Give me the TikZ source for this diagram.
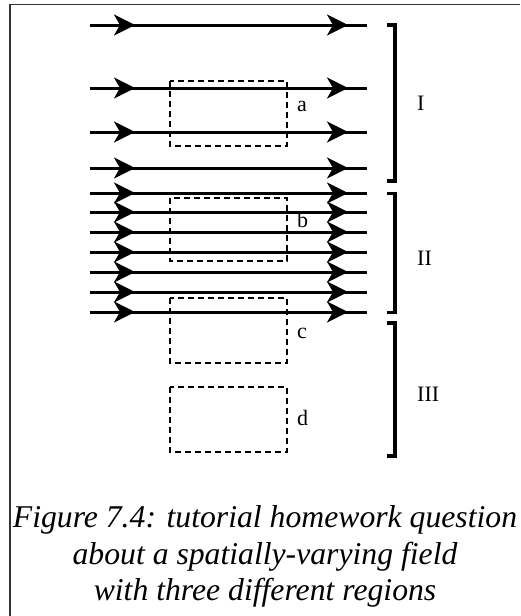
\documentclass[tikz,border=0pt]{standalone}
\usepackage{fontspec}
\setmainfont{Liberation Serif}
\usetikzlibrary{arrows.meta,decorations.markings}
\begin{document}
\begin{tikzpicture}[x=1pt,y=-1pt,
  fieldline/.style={line width=3pt, postaction={decorate},
    decoration={markings,
      mark=at position 45pt with {\arrow{Stealth[length=21pt,width=21pt,inset=6pt]}},
      mark=at position 258pt with {\arrow{Stealth[length=21pt,width=21pt,inset=6pt]}}}},
  loopbox/.style={line width=2.2pt, dash pattern=on 6pt off 4pt},
  brk/.style={line width=3.5pt, line join=miter},
  lbl/.style={anchor=base west, inner sep=0pt, font=\fontsize{22}{24}\selectfont},
  captext/.style={anchor=base, inner sep=0pt, font=\fontsize{31.7}{33}\selectfont\itshape}]
\useasboundingbox (0,0) rectangle (520,616);
% frame
\draw[line width=1.2pt, black!80] (10,616) -- (10,4.5) -- (520,4.5);
% field lines
\foreach \y in {25,88,132,168,193,212,232,252,272,292,312}{
  \draw[fieldline] (90,\y) -- (367,\y);
}
% loops
\draw[loopbox] (170,81) rectangle (287,146);
\draw[loopbox] (170,198) rectangle (287,261);
\draw[loopbox] (170,298) rectangle (287,363);
\draw[loopbox] (170,387) rectangle (287,452);
\node[lbl] (la) at (297,111) {a};
\node[lbl] (lb) at (297,227) {b};
\node[lbl] (lc) at (297,338) {c};
\node[lbl] (ld) at (297,425) {d};
% brackets
\draw[brk] (387,25) -- (395,25) -- (395,181) -- (387,181);
\draw[brk] (387,193.5) -- (395,193.5) -- (395,312.5) -- (387,312.5);
\draw[brk] (387,323) -- (395,323) -- (395,456) -- (387,456);
\node[lbl] (r1) at (417,110) {I};
\node[lbl] (r2) at (417,265) {II};
\node[lbl] (r3) at (417,401) {III};
% caption
\node[captext] (c1) at (265,527) {Figure 7.4: tutorial homework question};
\node[captext] (c2) at (265,564) {about a spatially-varying field};
\node[captext] (c3) at (265,600) {with three different regions};
\end{tikzpicture}
\end{document}
